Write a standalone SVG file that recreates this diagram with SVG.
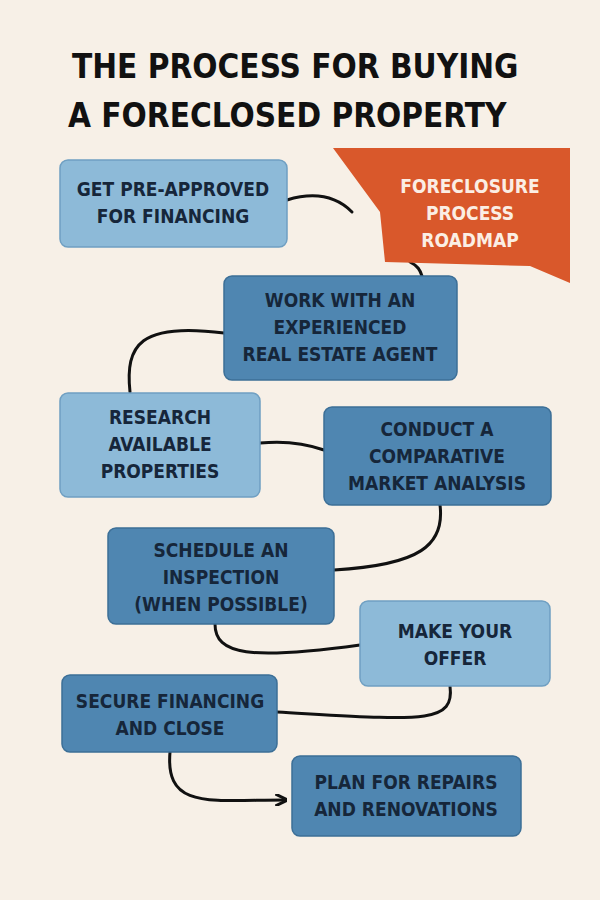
<svg xmlns="http://www.w3.org/2000/svg" width="600" height="900" viewBox="0 0 600 900">
<defs>
<marker id="ah" viewBox="0 0 10 10" refX="8" refY="5" markerWidth="4" markerHeight="4" orient="auto"><path d="M0,0 L10,5 L0,10" fill="none" stroke="#111" stroke-width="2.5"/></marker>
<style>
.t{font-family:"DejaVu Sans Condensed","Liberation Sans",sans-serif;font-weight:bold;font-size:19px;fill:#16263a;text-anchor:middle}
.w{fill:#fbeee4}
.lt{fill:#8dbad8;stroke:#6f9fc2;stroke-width:1.5}
.dk{fill:#4f86b1;stroke:#3c6f97;stroke-width:1.5}
.c{fill:none;stroke:#111;stroke-width:3;stroke-linecap:round}
</style>
</defs>
<rect width="600" height="900" fill="#f7f0e7"/>
<g id="title" font-family="'DejaVu Sans Condensed','Liberation Sans',sans-serif" font-weight="bold" font-size="33" fill="#111">
<text x="72" y="78">THE PROCESS FOR BUYING</text>
<text x="68" y="127">A FORECLOSED PROPERTY</text>
</g>
<g id="connectors">
<path class="c" d="M287,200 C320,190 340,200 352,212"/>
<path class="c" d="M410,262 C418,266 420,270 422,276"/>
<path class="c" d="M224,333 C140,322 125,345 130,392"/>
<path class="c" d="M260,443 C290,440 310,445 324,450"/>
<path class="c" d="M440,505 C445,545 420,565 334,570"/>
<path class="c" d="M215,624 C215,655 250,660 360,645"/>
<path class="c" d="M450,686 C455,725 420,720 277,712"/>
<path class="c" d="M170,752 C165,810 210,800 285,800" marker-end="url(#ah)"/>
</g>
<g id="n1"><rect class="lt" x="60" y="160" width="227" height="87" rx="8"/><text class="t" x="173" y="196">GET PRE-APPROVED</text><text class="t" x="173" y="223">FOR FINANCING</text></g>
<g id="banner"><polygon points="333,148 570,148 570,283 530,266 385,262 380,212" fill="#d9582b"/><text class="t w" x="470" y="193">FORECLOSURE</text><text class="t w" x="470" y="220">PROCESS</text><text class="t w" x="470" y="247">ROADMAP</text></g>
<g id="n2"><rect class="dk" x="224" y="276" width="233" height="104" rx="8"/><text class="t" x="340" y="307">WORK WITH AN</text><text class="t" x="340" y="334">EXPERIENCED</text><text class="t" x="340" y="361">REAL ESTATE AGENT</text></g>
<g id="n3"><rect class="lt" x="60" y="393" width="200" height="104" rx="8"/><text class="t" x="160" y="424">RESEARCH</text><text class="t" x="160" y="451">AVAILABLE</text><text class="t" x="160" y="478">PROPERTIES</text></g>
<g id="n4"><rect class="dk" x="324" y="407" width="227" height="98" rx="8"/><text class="t" x="437" y="436">CONDUCT A</text><text class="t" x="437" y="463">COMPARATIVE</text><text class="t" x="437" y="490">MARKET ANALYSIS</text></g>
<g id="n5"><rect class="dk" x="108" y="528" width="226" height="96" rx="8"/><text class="t" x="221" y="557">SCHEDULE AN</text><text class="t" x="221" y="584">INSPECTION</text><text class="t" x="221" y="611">(WHEN POSSIBLE)</text></g>
<g id="n6"><rect class="lt" x="360" y="601" width="190" height="85" rx="8"/><text class="t" x="455" y="638">MAKE YOUR</text><text class="t" x="455" y="665">OFFER</text></g>
<g id="n7"><rect class="dk" x="62" y="675" width="215" height="77" rx="8"/><text class="t" x="170" y="708">SECURE FINANCING</text><text class="t" x="170" y="735">AND CLOSE</text></g>
<g id="n8"><rect class="dk" x="292" y="756" width="229" height="80" rx="8"/><text class="t" x="406" y="789">PLAN FOR REPAIRS</text><text class="t" x="406" y="816">AND RENOVATIONS</text></g>
</svg>
